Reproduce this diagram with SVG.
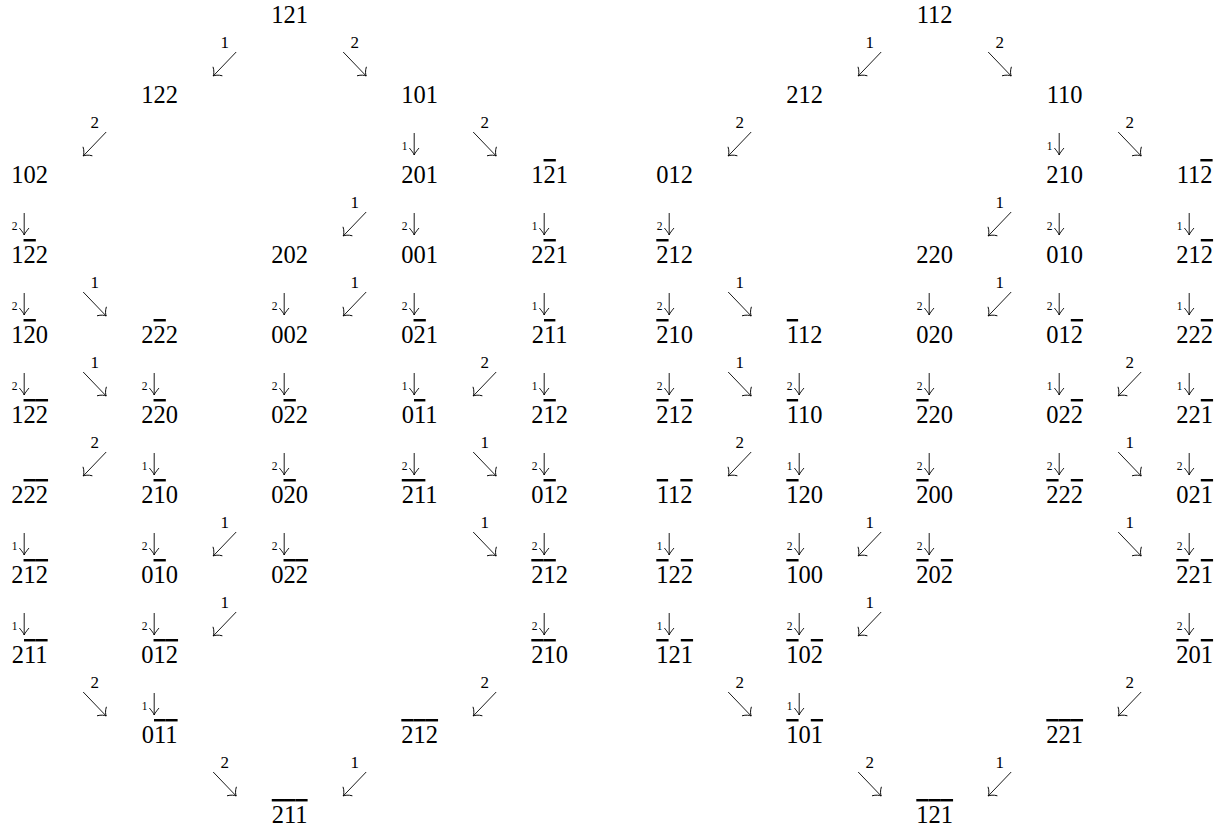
<svg xmlns="http://www.w3.org/2000/svg" width="1228" height="827" viewBox="0 0 1228 827">
<style>
.n{font-family:"Liberation Serif","Times New Roman",serif;font-size:24.5px;text-anchor:middle;fill:#000}
.o{text-decoration:overline;text-decoration-thickness:1.1px}
.el{font-family:"Liberation Serif","Times New Roman",serif;font-size:17px;text-anchor:middle;fill:#000}
.sl{font-family:"Liberation Serif","Times New Roman",serif;font-size:11.5px;text-anchor:middle;fill:#000}
.c{stroke:#000;stroke-width:0.9;fill:none}
</style>
<defs>
<marker id="hd" markerUnits="userSpaceOnUse" viewBox="-10 -10 20 20" markerWidth="20" markerHeight="20" refX="0" refY="0" orient="auto"><path d="M-6.5,-6.5 C-4.5,-2.8 -1.8,-0.7 0,0 C-1.8,0.7 -4.5,2.8 -6.5,6.5" fill="none" stroke="#000" stroke-width="0.9"/></marker>
<marker id="hv" markerUnits="userSpaceOnUse" viewBox="-10 -10 20 20" markerWidth="20" markerHeight="20" refX="0" refY="0" orient="auto"><path d="M-7,-4.8 C-4,-2.3 -1.5,-0.5 0,0 C-1.5,0.5 -4,2.3 -7,4.8" fill="none" stroke="#000" stroke-width="0.9"/></marker>
<path id="sw" class="c" d="M11.5,29 L-11.5,53" marker-end="url(#hd)"/>
<path id="se" class="c" d="M-11.5,29 L11.5,53" marker-end="url(#hd)"/>
<path id="dn" class="c" d="M0,30 L0,52" marker-end="url(#hv)"/>
</defs>
<rect width="1228" height="827" fill="#fff"/>
<g id="nodes-left">
<g id="a0"><text class="n" x="289.7" y="23">121</text></g>
<g id="a1"><text class="n" x="159.7" y="103">122</text></g>
<g id="a2"><text class="n" x="419.7" y="103">101</text></g>
<g id="a3"><text class="n" x="29.7" y="183">102</text></g>
<g id="a4"><text class="n" x="419.7" y="183">201</text></g>
<g id="a5"><text class="n" x="549.7" y="183">1<tspan class="o">2</tspan>1</text></g>
<g id="a6"><text class="n" x="29.7" y="263">1<tspan class="o">2</tspan>2</text></g>
<g id="a7"><text class="n" x="289.7" y="263">202</text></g>
<g id="a8"><text class="n" x="419.7" y="263">001</text></g>
<g id="a9"><text class="n" x="549.7" y="263">2<tspan class="o">2</tspan>1</text></g>
<g id="a10"><text class="n" x="29.7" y="343">1<tspan class="o">2</tspan>0</text></g>
<g id="a11"><text class="n" x="159.7" y="343">2<tspan class="o">2</tspan>2</text></g>
<g id="a12"><text class="n" x="289.7" y="343">002</text></g>
<g id="a13"><text class="n" x="419.7" y="343">0<tspan class="o">2</tspan>1</text></g>
<g id="a14"><text class="n" x="549.7" y="343">2<tspan class="o">1</tspan>1</text></g>
<g id="a15"><text class="n" x="29.7" y="423">1<tspan class="o">2</tspan><tspan class="o">2</tspan></text></g>
<g id="a16"><text class="n" x="159.7" y="423">2<tspan class="o">2</tspan>0</text></g>
<g id="a17"><text class="n" x="289.7" y="423">0<tspan class="o">2</tspan>2</text></g>
<g id="a18"><text class="n" x="419.7" y="423">0<tspan class="o">1</tspan>1</text></g>
<g id="a19"><text class="n" x="549.7" y="423">2<tspan class="o">1</tspan>2</text></g>
<g id="a20"><text class="n" x="29.7" y="503">2<tspan class="o">2</tspan><tspan class="o">2</tspan></text></g>
<g id="a21"><text class="n" x="159.7" y="503">2<tspan class="o">1</tspan>0</text></g>
<g id="a22"><text class="n" x="289.7" y="503">0<tspan class="o">2</tspan>0</text></g>
<g id="a23"><text class="n" x="419.7" y="503"><tspan class="o">2</tspan><tspan class="o">1</tspan>1</text></g>
<g id="a24"><text class="n" x="549.7" y="503">0<tspan class="o">1</tspan>2</text></g>
<g id="a25"><text class="n" x="29.7" y="583">2<tspan class="o">1</tspan><tspan class="o">2</tspan></text></g>
<g id="a26"><text class="n" x="159.7" y="583">0<tspan class="o">1</tspan>0</text></g>
<g id="a27"><text class="n" x="289.7" y="583">0<tspan class="o">2</tspan><tspan class="o">2</tspan></text></g>
<g id="a28"><text class="n" x="549.7" y="583"><tspan class="o">2</tspan><tspan class="o">1</tspan>2</text></g>
<g id="a29"><text class="n" x="29.7" y="663">2<tspan class="o">1</tspan><tspan class="o">1</tspan></text></g>
<g id="a30"><text class="n" x="159.7" y="663">0<tspan class="o">1</tspan><tspan class="o">2</tspan></text></g>
<g id="a31"><text class="n" x="549.7" y="663"><tspan class="o">2</tspan><tspan class="o">1</tspan>0</text></g>
<g id="a32"><text class="n" x="159.7" y="743">0<tspan class="o">1</tspan><tspan class="o">1</tspan></text></g>
<g id="a33"><text class="n" x="419.7" y="743"><tspan class="o">2</tspan><tspan class="o">1</tspan><tspan class="o">2</tspan></text></g>
<g id="a34"><text class="n" x="289.7" y="823"><tspan class="o">2</tspan><tspan class="o">1</tspan><tspan class="o">1</tspan></text></g>
</g>
<g id="nodes-right">
<g id="b0"><text class="n" x="934.7" y="23">112</text></g>
<g id="b1"><text class="n" x="804.7" y="103">212</text></g>
<g id="b2"><text class="n" x="1064.7" y="103">110</text></g>
<g id="b3"><text class="n" x="674.7" y="183">012</text></g>
<g id="b4"><text class="n" x="1064.7" y="183">210</text></g>
<g id="b5"><text class="n" x="1194.7" y="183">11<tspan class="o">2</tspan></text></g>
<g id="b6"><text class="n" x="674.7" y="263"><tspan class="o">2</tspan>12</text></g>
<g id="b7"><text class="n" x="934.7" y="263">220</text></g>
<g id="b8"><text class="n" x="1064.7" y="263">010</text></g>
<g id="b9"><text class="n" x="1194.7" y="263">21<tspan class="o">2</tspan></text></g>
<g id="b10"><text class="n" x="674.7" y="343"><tspan class="o">2</tspan>10</text></g>
<g id="b11"><text class="n" x="804.7" y="343"><tspan class="o">1</tspan>12</text></g>
<g id="b12"><text class="n" x="934.7" y="343">020</text></g>
<g id="b13"><text class="n" x="1064.7" y="343">01<tspan class="o">2</tspan></text></g>
<g id="b14"><text class="n" x="1194.7" y="343">22<tspan class="o">2</tspan></text></g>
<g id="b15"><text class="n" x="674.7" y="423"><tspan class="o">2</tspan>1<tspan class="o">2</tspan></text></g>
<g id="b16"><text class="n" x="804.7" y="423"><tspan class="o">1</tspan>10</text></g>
<g id="b17"><text class="n" x="934.7" y="423"><tspan class="o">2</tspan>20</text></g>
<g id="b18"><text class="n" x="1064.7" y="423">02<tspan class="o">2</tspan></text></g>
<g id="b19"><text class="n" x="1194.7" y="423">22<tspan class="o">1</tspan></text></g>
<g id="b20"><text class="n" x="674.7" y="503"><tspan class="o">1</tspan>1<tspan class="o">2</tspan></text></g>
<g id="b21"><text class="n" x="804.7" y="503"><tspan class="o">1</tspan>20</text></g>
<g id="b22"><text class="n" x="934.7" y="503"><tspan class="o">2</tspan>00</text></g>
<g id="b23"><text class="n" x="1064.7" y="503"><tspan class="o">2</tspan>2<tspan class="o">2</tspan></text></g>
<g id="b24"><text class="n" x="1194.7" y="503">02<tspan class="o">1</tspan></text></g>
<g id="b25"><text class="n" x="674.7" y="583"><tspan class="o">1</tspan>2<tspan class="o">2</tspan></text></g>
<g id="b26"><text class="n" x="804.7" y="583"><tspan class="o">1</tspan>00</text></g>
<g id="b27"><text class="n" x="934.7" y="583"><tspan class="o">2</tspan>0<tspan class="o">2</tspan></text></g>
<g id="b28"><text class="n" x="1194.7" y="583"><tspan class="o">2</tspan>2<tspan class="o">1</tspan></text></g>
<g id="b29"><text class="n" x="674.7" y="663"><tspan class="o">1</tspan>2<tspan class="o">1</tspan></text></g>
<g id="b30"><text class="n" x="804.7" y="663"><tspan class="o">1</tspan>0<tspan class="o">2</tspan></text></g>
<g id="b31"><text class="n" x="1194.7" y="663"><tspan class="o">2</tspan>0<tspan class="o">1</tspan></text></g>
<g id="b32"><text class="n" x="804.7" y="743"><tspan class="o">1</tspan>0<tspan class="o">1</tspan></text></g>
<g id="b33"><text class="n" x="1064.7" y="743"><tspan class="o">2</tspan><tspan class="o">2</tspan><tspan class="o">1</tspan></text></g>
<g id="b34"><text class="n" x="934.7" y="823"><tspan class="o">1</tspan><tspan class="o">2</tspan><tspan class="o">1</tspan></text></g>
</g>
<g id="connectors">
<g transform="translate(224.7,23)"><use href="#sw"/><text class="el" y="25">1</text></g>
<g transform="translate(354.7,23)"><use href="#se"/><text class="el" y="25">2</text></g>
<g transform="translate(94.7,103)"><use href="#sw"/><text class="el" y="25">2</text></g>
<g transform="translate(414.2,103)"><use href="#dn"/><text class="sl" x="-9.7" y="47">1</text></g>
<g transform="translate(484.7,103)"><use href="#se"/><text class="el" y="25">2</text></g>
<g transform="translate(24.2,183)"><use href="#dn"/><text class="sl" x="-9.7" y="47">2</text></g>
<g transform="translate(354.7,183)"><use href="#sw"/><text class="el" y="25">1</text></g>
<g transform="translate(414.2,183)"><use href="#dn"/><text class="sl" x="-9.7" y="47">2</text></g>
<g transform="translate(544.2,183)"><use href="#dn"/><text class="sl" x="-9.7" y="47">1</text></g>
<g transform="translate(24.2,263)"><use href="#dn"/><text class="sl" x="-9.7" y="47">2</text></g>
<g transform="translate(94.7,263)"><use href="#se"/><text class="el" y="25">1</text></g>
<g transform="translate(284.2,263)"><use href="#dn"/><text class="sl" x="-9.7" y="47">2</text></g>
<g transform="translate(354.7,263)"><use href="#sw"/><text class="el" y="25">1</text></g>
<g transform="translate(414.2,263)"><use href="#dn"/><text class="sl" x="-9.7" y="47">2</text></g>
<g transform="translate(544.2,263)"><use href="#dn"/><text class="sl" x="-9.7" y="47">1</text></g>
<g transform="translate(24.2,343)"><use href="#dn"/><text class="sl" x="-9.7" y="47">2</text></g>
<g transform="translate(94.7,343)"><use href="#se"/><text class="el" y="25">1</text></g>
<g transform="translate(154.2,343)"><use href="#dn"/><text class="sl" x="-9.7" y="47">2</text></g>
<g transform="translate(284.2,343)"><use href="#dn"/><text class="sl" x="-9.7" y="47">2</text></g>
<g transform="translate(414.2,343)"><use href="#dn"/><text class="sl" x="-9.7" y="47">1</text></g>
<g transform="translate(484.7,343)"><use href="#sw"/><text class="el" y="25">2</text></g>
<g transform="translate(544.2,343)"><use href="#dn"/><text class="sl" x="-9.7" y="47">1</text></g>
<g transform="translate(94.7,423)"><use href="#sw"/><text class="el" y="25">2</text></g>
<g transform="translate(154.2,423)"><use href="#dn"/><text class="sl" x="-9.7" y="47">1</text></g>
<g transform="translate(284.2,423)"><use href="#dn"/><text class="sl" x="-9.7" y="47">2</text></g>
<g transform="translate(414.2,423)"><use href="#dn"/><text class="sl" x="-9.7" y="47">2</text></g>
<g transform="translate(484.7,423)"><use href="#se"/><text class="el" y="25">1</text></g>
<g transform="translate(544.2,423)"><use href="#dn"/><text class="sl" x="-9.7" y="47">2</text></g>
<g transform="translate(24.2,503)"><use href="#dn"/><text class="sl" x="-9.7" y="47">1</text></g>
<g transform="translate(154.2,503)"><use href="#dn"/><text class="sl" x="-9.7" y="47">2</text></g>
<g transform="translate(224.7,503)"><use href="#sw"/><text class="el" y="25">1</text></g>
<g transform="translate(284.2,503)"><use href="#dn"/><text class="sl" x="-9.7" y="47">2</text></g>
<g transform="translate(484.7,503)"><use href="#se"/><text class="el" y="25">1</text></g>
<g transform="translate(544.2,503)"><use href="#dn"/><text class="sl" x="-9.7" y="47">2</text></g>
<g transform="translate(24.2,583)"><use href="#dn"/><text class="sl" x="-9.7" y="47">1</text></g>
<g transform="translate(154.2,583)"><use href="#dn"/><text class="sl" x="-9.7" y="47">2</text></g>
<g transform="translate(224.7,583)"><use href="#sw"/><text class="el" y="25">1</text></g>
<g transform="translate(544.2,583)"><use href="#dn"/><text class="sl" x="-9.7" y="47">2</text></g>
<g transform="translate(94.7,663)"><use href="#se"/><text class="el" y="25">2</text></g>
<g transform="translate(154.2,663)"><use href="#dn"/><text class="sl" x="-9.7" y="47">1</text></g>
<g transform="translate(484.7,663)"><use href="#sw"/><text class="el" y="25">2</text></g>
<g transform="translate(224.7,743)"><use href="#se"/><text class="el" y="25">2</text></g>
<g transform="translate(354.7,743)"><use href="#sw"/><text class="el" y="25">1</text></g>
<g transform="translate(869.7,23)"><use href="#sw"/><text class="el" y="25">1</text></g>
<g transform="translate(999.7,23)"><use href="#se"/><text class="el" y="25">2</text></g>
<g transform="translate(739.7,103)"><use href="#sw"/><text class="el" y="25">2</text></g>
<g transform="translate(1059.2,103)"><use href="#dn"/><text class="sl" x="-9.7" y="47">1</text></g>
<g transform="translate(1129.7,103)"><use href="#se"/><text class="el" y="25">2</text></g>
<g transform="translate(669.2,183)"><use href="#dn"/><text class="sl" x="-9.7" y="47">2</text></g>
<g transform="translate(999.7,183)"><use href="#sw"/><text class="el" y="25">1</text></g>
<g transform="translate(1059.2,183)"><use href="#dn"/><text class="sl" x="-9.7" y="47">2</text></g>
<g transform="translate(1189.2,183)"><use href="#dn"/><text class="sl" x="-9.7" y="47">1</text></g>
<g transform="translate(669.2,263)"><use href="#dn"/><text class="sl" x="-9.7" y="47">2</text></g>
<g transform="translate(739.7,263)"><use href="#se"/><text class="el" y="25">1</text></g>
<g transform="translate(929.2,263)"><use href="#dn"/><text class="sl" x="-9.7" y="47">2</text></g>
<g transform="translate(999.7,263)"><use href="#sw"/><text class="el" y="25">1</text></g>
<g transform="translate(1059.2,263)"><use href="#dn"/><text class="sl" x="-9.7" y="47">2</text></g>
<g transform="translate(1189.2,263)"><use href="#dn"/><text class="sl" x="-9.7" y="47">1</text></g>
<g transform="translate(669.2,343)"><use href="#dn"/><text class="sl" x="-9.7" y="47">2</text></g>
<g transform="translate(739.7,343)"><use href="#se"/><text class="el" y="25">1</text></g>
<g transform="translate(799.2,343)"><use href="#dn"/><text class="sl" x="-9.7" y="47">2</text></g>
<g transform="translate(929.2,343)"><use href="#dn"/><text class="sl" x="-9.7" y="47">2</text></g>
<g transform="translate(1059.2,343)"><use href="#dn"/><text class="sl" x="-9.7" y="47">1</text></g>
<g transform="translate(1129.7,343)"><use href="#sw"/><text class="el" y="25">2</text></g>
<g transform="translate(1189.2,343)"><use href="#dn"/><text class="sl" x="-9.7" y="47">1</text></g>
<g transform="translate(739.7,423)"><use href="#sw"/><text class="el" y="25">2</text></g>
<g transform="translate(799.2,423)"><use href="#dn"/><text class="sl" x="-9.7" y="47">1</text></g>
<g transform="translate(929.2,423)"><use href="#dn"/><text class="sl" x="-9.7" y="47">2</text></g>
<g transform="translate(1059.2,423)"><use href="#dn"/><text class="sl" x="-9.7" y="47">2</text></g>
<g transform="translate(1129.7,423)"><use href="#se"/><text class="el" y="25">1</text></g>
<g transform="translate(1189.2,423)"><use href="#dn"/><text class="sl" x="-9.7" y="47">2</text></g>
<g transform="translate(669.2,503)"><use href="#dn"/><text class="sl" x="-9.7" y="47">1</text></g>
<g transform="translate(799.2,503)"><use href="#dn"/><text class="sl" x="-9.7" y="47">2</text></g>
<g transform="translate(869.7,503)"><use href="#sw"/><text class="el" y="25">1</text></g>
<g transform="translate(929.2,503)"><use href="#dn"/><text class="sl" x="-9.7" y="47">2</text></g>
<g transform="translate(1129.7,503)"><use href="#se"/><text class="el" y="25">1</text></g>
<g transform="translate(1189.2,503)"><use href="#dn"/><text class="sl" x="-9.7" y="47">2</text></g>
<g transform="translate(669.2,583)"><use href="#dn"/><text class="sl" x="-9.7" y="47">1</text></g>
<g transform="translate(799.2,583)"><use href="#dn"/><text class="sl" x="-9.7" y="47">2</text></g>
<g transform="translate(869.7,583)"><use href="#sw"/><text class="el" y="25">1</text></g>
<g transform="translate(1189.2,583)"><use href="#dn"/><text class="sl" x="-9.7" y="47">2</text></g>
<g transform="translate(739.7,663)"><use href="#se"/><text class="el" y="25">2</text></g>
<g transform="translate(799.2,663)"><use href="#dn"/><text class="sl" x="-9.7" y="47">1</text></g>
<g transform="translate(1129.7,663)"><use href="#sw"/><text class="el" y="25">2</text></g>
<g transform="translate(869.7,743)"><use href="#se"/><text class="el" y="25">2</text></g>
<g transform="translate(999.7,743)"><use href="#sw"/><text class="el" y="25">1</text></g>
</g>
</svg>
